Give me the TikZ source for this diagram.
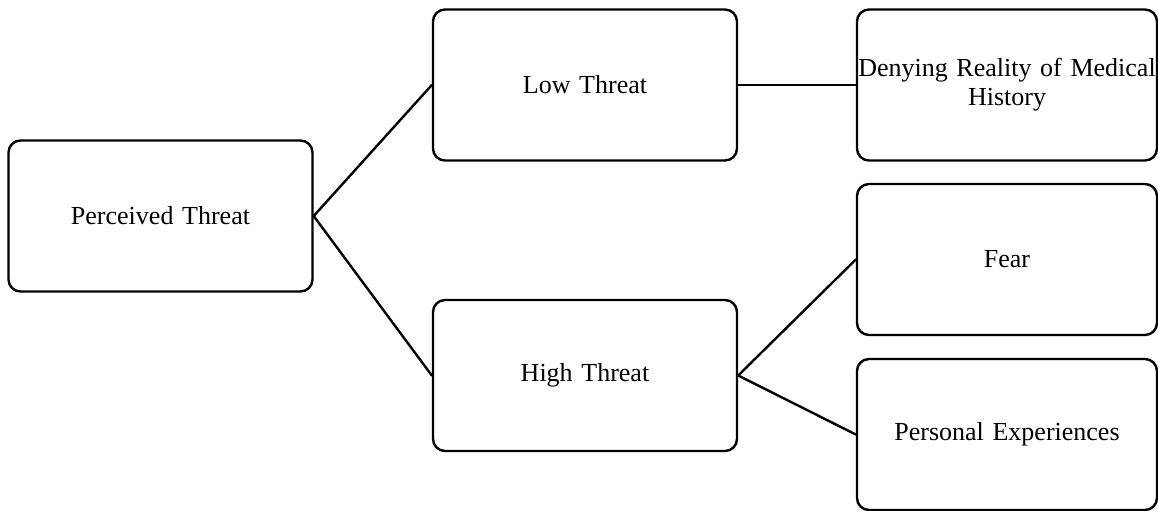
\documentclass[tikz,border=0pt]{standalone}
\usepackage{fontspec}
\setmainfont{Liberation Serif}
\usepackage{tikz}
\tikzset{threatbox/.style={draw=black,line width=1.2pt,rounded corners=6pt,minimum width=152pt,minimum height=75.5pt,inner sep=0pt,text width=150pt,align=center,font=\fontsize{13}{14.5}\selectfont}}

\begin{document}
\begin{tikzpicture}[line cap=round,line join=round,x=0.5pt,y=0.5pt]
\useasboundingbox (0,0) rectangle (1158,510);
\node[threatbox] (perc) at (160.5,294) {Perceived Threat};
\node[threatbox] (low) at (585,425) {Low Threat};
\node[threatbox] (high) at (585,134.5) {High Threat};
\node[threatbox,minimum width=150pt] (deny) at (1007,425) {Denying Reality of Medical\\History};
\node[threatbox,minimum width=150pt] (fear) at (1007,250.5) {Fear};
\node[threatbox,minimum width=150pt] (pers) at (1007,75.5) {Personal Experiences};
\draw[line width=1.2pt] (perc.east) -- (low.west);
\draw[line width=1.2pt] (perc.east) -- (high.west);
\draw[line width=1.2pt] (low.east) -- (deny.west);
\draw[line width=1.2pt] (high.east) -- (fear.west);
\draw[line width=1.2pt] (high.east) -- (pers.west);
\end{tikzpicture}
\end{document}
